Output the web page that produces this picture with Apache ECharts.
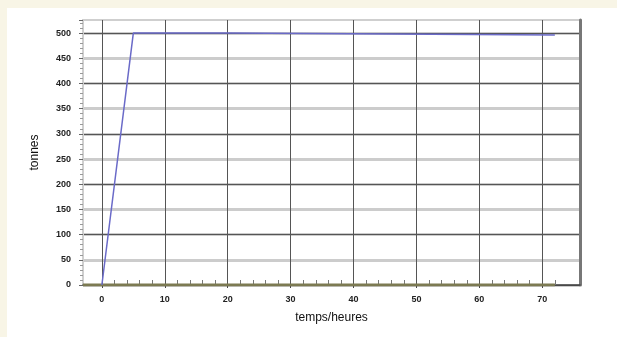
<!DOCTYPE html>
<html><head><meta charset="utf-8">
<script src="https://cdn.jsdelivr.net/npm/echarts@6/dist/echarts.min.js"></script>
<style>html,body{margin:0;padding:0;background:#f8f5e6;}#c{width:617px;height:337px;}</style>
</head><body><div id="c"></div>
<script>
const blueX = [0, 5, 20, 72];
const blueY = [0, 500, 500, 496];
const baseX = [-3, 72];
const baseY = [0, 0];
const xTicks = [0, 10, 20, 30, 40, 50, 60, 70];
const yTicks = [0, 50, 100, 150, 200, 250, 300, 350, 400, 450, 500];

const chart = echarts.init(document.getElementById('c'), null, {renderer: 'canvas'});
const lblStyle = {color: '#222', fontSize: 9, fontWeight: 'bold', fontFamily: 'Liberation Sans'};
chart.setOption({
  backgroundColor: 'transparent',
  animation: false,
  graphic: [{type: 'rect', shape: {x: 7, y: 8, width: 610, height: 329}, style: {fill: '#ffffff'}, z: -10}],
  grid: {left: 83, right: 37, top: 20, bottom: 52, show: true, borderColor: '#cfcfcf', borderWidth: 2, backgroundColor: 'transparent'},
  xAxis: [{
    type: 'value', min: -3, max: 76, interval: 10,
    name: 'temps/heures', nameLocation: 'middle', nameGap: 27,
    nameTextStyle: {color: '#111', fontSize: 12, fontFamily: 'Liberation Sans'},
    axisLine: {show: true, onZero: false, lineStyle: {color: '#444', width: 1.5}},
    axisTick: {show: true, inside: false, length: 3, lineStyle: {color: '#444'}, customValues: xTicks},
    minorTick: {show: false},
    axisLabel: Object.assign({margin: 10, customValues: xTicks}, lblStyle),
    splitLine: {show: true, lineStyle: {color: '#555', width: 1}, customValues: xTicks}
  }, {
    type: 'value', min: -3, max: 76, interval: 2, position: 'bottom',
    axisLine: {show: false, onZero: false}, axisLabel: {show: false}, splitLine: {show: false},
    axisTick: {show: true, inside: true, length: 5, lineStyle: {color: '#777'},
      customValues: [2,4,6,8,12,14,16,18,22,24,26,28,32,34,36,38,42,44,46,48,52,54,56,58,62,64,66,68,72]}
  }],
  yAxis: [{
    type: 'value', min: 0, max: 526, interval: 50,
    name: 'tonnes', nameLocation: 'middle', nameGap: 42, nameRotate: 90,
    nameTextStyle: {color: '#111', fontSize: 12, fontFamily: 'Liberation Sans'},
    axisLine: {show: true, onZero: false, lineStyle: {color: '#cfcfcf', width: 2}},
    axisTick: {show: true, length: 4, lineStyle: {color: '#666'}},
    minorTick: {show: true, splitNumber: 5, length: 3, lineStyle: {color: '#999'}},
    axisLabel: Object.assign({margin: 12, customValues: yTicks}, lblStyle),
    splitLine: {show: true, showMaxLine: false, lineStyle: {color: '#cccccc', width: 3}}
  }, {
    type: 'value', min: 0, max: 526, interval: 100, position: 'right',
    axisLine: {show: true, onZero: false, lineStyle: {color: '#777', width: 3}},
    axisTick: {show: false}, axisLabel: {show: false},
    splitLine: {show: true, showMaxLine: false, lineStyle: {color: '#555', width: 1}}
  }],
  series: [{
    type: 'line', data: baseX.map((x, i) => [x, baseY[i]]), symbol: 'none',
    lineStyle: {color: '#7c7a52', width: 3}, z: 3
  }, {
    type: 'line', data: blueX.map((x, i) => [x, blueY[i]]), symbol: 'none',
    lineStyle: {color: '#6a6ac8', width: 1.5}, z: 4
  }]
});
</script></body></html>
